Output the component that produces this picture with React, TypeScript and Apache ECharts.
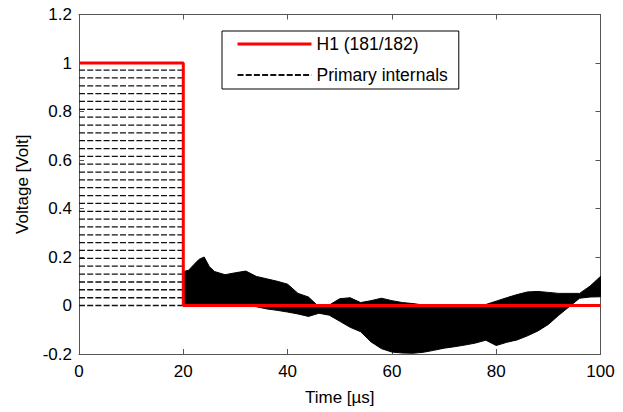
import React, { useEffect, useRef } from "react";
import * as echarts from "echarts";

// ---- data ----
const H1_TIME = [0, 20, 20, 100];
const H1_VOLT = [1, 1, 0, 0];

const INTERNAL_TIME = [0, 20];
const INTERNAL_LEVELS = [
  0.971, 0.939, 0.906, 0.874, 0.842, 0.809, 0.777, 0.744, 0.712, 0.68, 0.647,
  0.615, 0.583, 0.55, 0.518, 0.486, 0.453, 0.421, 0.388, 0.356, 0.324, 0.291,
  0.259, 0.227, 0.194, 0.162, 0.129, 0.097, 0.065, 0.032, 0.0,
];

// envelope of the primary internals after the step (t >= 20 µs)
const BAND_TIME = [
  20, 21, 22, 23, 24, 25, 26, 28, 30, 32, 34, 36, 38, 40, 42, 44, 46, 48, 50,
  52, 54, 56, 58, 60, 62, 64, 66, 68, 70, 72, 74, 76, 78, 80, 82, 84, 86, 88,
  90, 92, 94, 96, 98, 100,
];
const BAND_UPPER = [
  0.14, 0.145, 0.168, 0.19, 0.2, 0.16, 0.14, 0.127, 0.135, 0.142, 0.12, 0.11,
  0.1, 0.088, 0.05, 0.035, -0.005, 0.002, 0.028, 0.032, 0.012, 0.02, 0.03,
  0.02, 0.012, 0.008, 0.002, 0.0, 0.0, 0.0, 0.0, 0.0, 0.004, 0.018, 0.032,
  0.045, 0.056, 0.058, 0.054, 0.05, 0.05, 0.05, 0.08, 0.12,
];
const BAND_LOWER = [
  0.0, 0.0, 0.0, 0.0, 0.0, 0.0, 0.0, 0.0, 0.0, 0.0, -0.005, -0.014, -0.02,
  -0.027, -0.035, -0.045, -0.032, -0.04, -0.065, -0.09, -0.108, -0.15, -0.178,
  -0.192, -0.196, -0.197, -0.193, -0.185, -0.176, -0.17, -0.163, -0.155,
  -0.143, -0.165, -0.152, -0.142, -0.125, -0.105, -0.078, -0.04, -0.005, 0.03,
  0.035, 0.036,
];

const X_TICKS = [0, 20, 40, 60, 80, 100];
const Y_TICKS = [-0.2, 0, 0.2, 0.4, 0.6, 0.8, 1, 1.2];

const FONT = "'Liberation Sans', Arial, sans-serif";

export default function App() {
  const ref = useRef<HTMLDivElement>(null);

  useEffect(() => {
    if (!ref.current) return;
    const chart = echarts.init(ref.current, null, { renderer: "svg" });

    const axisColor = "#555";
    const xMin = X_TICKS[0];
    const xMax = X_TICKS[X_TICKS.length - 1];
    const xInt = X_TICKS[1] - X_TICKS[0];
    const yMin = Y_TICKS[0];
    const yMax = Y_TICKS[Y_TICKS.length - 1];
    const yInt = 0.2;

    const internalSeries = INTERNAL_LEVELS.map((lv) => ({
      name: "Primary internals",
      type: "line",
      xAxisIndex: 0,
      yAxisIndex: 0,
      symbol: "none",
      silent: true,
      z: 2,
      data: INTERNAL_TIME.map((t) => [t, lv]),
      itemStyle: { color: "#000" },
      lineStyle: { color: "#111", width: 1.3, type: [6, 2.2] },
    }));

    const bandSeries = {
      name: "band",
      type: "custom",
      silent: true,
      z: 3,
      data: [[BAND_TIME[0], BAND_UPPER[0]]],
      renderItem: (_params: any, api: any) => {
        const top = BAND_TIME.map((t, i) => api.coord([t, BAND_UPPER[i]]));
        const bottom = BAND_TIME.map((t, i) => api.coord([t, BAND_LOWER[i]])).reverse();
        return {
          type: "polygon",
          shape: { points: top.concat(bottom) },
          style: { fill: "#000", stroke: "#000", lineWidth: 1 },
        };
      },
    };

    const option: any = {
      animation: false,
      backgroundColor: "#fff",
      grid: { left: 79, right: 22.5, top: 14.5, bottom: 58, containLabel: false },
      legend: {
        data: [
          { name: "H1 (181/182)", lineStyle: { width: 3, color: "#ff0000" } },
          { name: "Primary internals" },
        ],
        orient: "vertical",
        left: 222,
        top: 31,
        itemWidth: 74,
        itemHeight: 14,
        itemGap: 13,
        padding: [4, 11, 5, 14],
        borderColor: "#000",
        borderWidth: 1,
        borderRadius: 0,
        backgroundColor: "#fff",
        selectedMode: false,
        z: 20,
        itemStyle: { opacity: 0 },
        textStyle: { fontFamily: FONT, fontSize: 17.5, color: "#000" },
      },
      xAxis: [
        {
          type: "value",
          min: xMin,
          max: xMax,
          interval: xInt,
          name: "Time [µs]",
          nameLocation: "middle",
          nameGap: 35,
          nameTextStyle: { fontFamily: FONT, fontSize: 17, color: "#000" },
          axisLine: { show: true, onZero: false, lineStyle: { color: axisColor, width: 1 } },
          axisTick: { show: true, inside: true, length: 5, lineStyle: { color: axisColor } },
          axisLabel: { fontFamily: FONT, fontSize: 17, color: "#000", margin: 9 },
          splitLine: { show: false },
        },
        {
          type: "value",
          position: "top",
          min: xMin,
          max: xMax,
          interval: xInt,
          axisLine: { show: true, onZero: false, lineStyle: { color: axisColor, width: 1 } },
          axisTick: { show: true, inside: true, length: 5, lineStyle: { color: axisColor } },
          axisLabel: { show: false },
          splitLine: { show: false },
        },
      ],
      yAxis: [
        {
          type: "value",
          min: yMin,
          max: yMax,
          interval: yInt,
          name: "Voltage [Volt]",
          nameLocation: "middle",
          nameGap: 48,
          nameTextStyle: { fontFamily: FONT, fontSize: 17, color: "#000" },
          axisLine: { show: true, onZero: false, lineStyle: { color: axisColor, width: 1 } },
          axisTick: { show: true, inside: true, length: 5, lineStyle: { color: axisColor } },
          axisLabel: { fontFamily: FONT, fontSize: 17, color: "#000", margin: 7 },
          splitLine: { show: false },
        },
        {
          type: "value",
          position: "right",
          min: yMin,
          max: yMax,
          interval: yInt,
          axisLine: { show: true, onZero: false, lineStyle: { color: axisColor, width: 1 } },
          axisTick: { show: true, inside: true, length: 5, lineStyle: { color: axisColor } },
          axisLabel: { show: false },
          splitLine: { show: false },
        },
      ],
      series: [
        ...internalSeries,
        bandSeries,
        {
          name: "H1 (181/182)",
          type: "line",
          symbol: "none",
          silent: true,
          z: 5,
          data: H1_TIME.map((t, i) => [t, H1_VOLT[i]]),
          itemStyle: { color: "#ff0000" },
          lineStyle: { color: "#ff0000", width: 3 },
        },
      ],
    };

    chart.setOption(option);
    return () => chart.dispose();
  }, []);

  return <div ref={ref} style={{ width: 623, height: 412, position: "absolute", left: 0, top: 0 }} />;
}
